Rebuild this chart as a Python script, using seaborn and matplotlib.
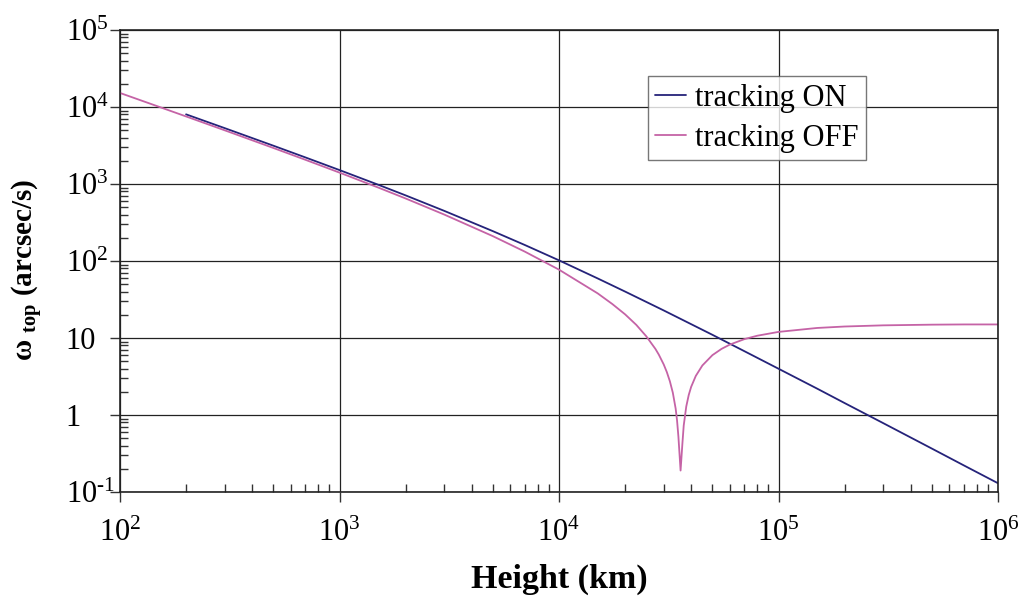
import pandas as pd
import matplotlib
matplotlib.use("Agg")
import matplotlib.pyplot as plt
import seaborn as sns
from matplotlib.ticker import LogLocator, NullFormatter

# values (height in km, omega in arcsec/s)
height_on = [200, 300, 500, 700, 1000, 1500, 2000, 3000, 5000, 7000, 10000,
             15000, 20000, 30000, 50000, 70000, 100000, 150000, 200000,
             300000, 500000, 700000, 1000000]
omega_on = [8030, 5315, 3142, 2212, 1517, 979, 712, 448, 244, 161, 102,
            59.4, 40.1, 22.8, 11.0, 6.73, 3.99, 2.20, 1.43,
            0.784, 0.366, 0.221, 0.130]

height_off = [100, 150, 200, 300, 500, 700, 1000, 1500, 2000, 3000,
              5000, 7000, 10000, 15000, 17500, 20000, 22500, 25000, 27500, 28500,
              30000, 31000, 32000, 33000, 34000, 34500, 35000, 35800, 36500, 37000,
              38000, 39000, 40000, 42000, 45000, 50000, 55000, 60000, 70000, 80000,
              100000, 150000, 200000, 300000, 500000, 700000, 1000000]
omega_off = [15216, 10097, 7539, 4980, 2935, 2060, 1406, 900, 649, 401,
             210, 132, 77.2, 38.0, 27.6, 20.3, 14.8, 10.5, 7.21, 6.07,
             4.53, 3.60, 2.74, 1.95, 1.21, 0.85, 0.52, 0.19, 0.43, 0.73,
             1.29, 1.82, 2.32, 3.22, 4.40, 5.99, 7.22, 8.21, 9.68, 10.7,
             12.0, 13.5, 14.1, 14.6, 14.9, 15.0, 15.0]

x_ticks = [1e2, 1e3, 1e4, 1e5, 1e6]
x_labels = ["$10^{2}$", "$10^{3}$", "$10^{4}$", "$10^{5}$", "$10^{6}$"]
y_ticks = [1e-1, 1, 10, 1e2, 1e3, 1e4, 1e5]
y_labels = [r"$10^{\text{-}1}$", "1", "10", "$10^{2}$", "$10^{3}$", "$10^{4}$", "$10^{5}$"]

df_on = pd.DataFrame({"Height": height_on, "omega": omega_on})
df_off = pd.DataFrame({"Height": height_off, "omega": omega_off})

sns.set_style("white")
plt.rcParams["font.family"] = ["Liberation Serif", "DejaVu Serif"]
plt.rcParams["mathtext.fontset"] = "custom"
plt.rcParams["mathtext.rm"] = "Liberation Serif"
plt.rcParams["mathtext.it"] = "Liberation Serif:italic"
plt.rcParams["mathtext.bf"] = "Liberation Serif:bold"
plt.rcParams["text.color"] = "black"
plt.rcParams["axes.labelcolor"] = "black"
plt.rcParams["xtick.color"] = "black"
plt.rcParams["ytick.color"] = "black"

fig = plt.figure(figsize=(10.24, 5.96), dpi=100)
ax = fig.add_axes([120 / 1024, 104 / 596, 878 / 1024, 462 / 596])

sns.lineplot(data=df_on, x="Height", y="omega", ax=ax, color="#25237a",
             lw=1.3, label="tracking ON")
sns.lineplot(data=df_off, x="Height", y="omega", ax=ax, color="#c563a6",
             lw=1.3, label="tracking OFF")

ax.set_xscale("log")
ax.set_yscale("log")
ax.set_xlim(1e2, 1e6)
ax.set_ylim(1e-1, 1e5)

ax.set_xticks(x_ticks)
ax.set_xticklabels(x_labels, fontsize=22)
ax.set_yticks(y_ticks)
ax.set_yticklabels(y_labels, fontsize=22)
ax.xaxis.set_minor_locator(LogLocator(base=10, subs=range(2, 10), numticks=20))
ax.yaxis.set_minor_locator(LogLocator(base=10, subs=range(2, 10), numticks=20))
ax.xaxis.set_minor_formatter(NullFormatter())
ax.yaxis.set_minor_formatter(NullFormatter())

ax.tick_params(which="both", bottom=True, left=True, top=False, right=False)
ax.tick_params(which="major", direction="out", length=7, width=1, color="#333333")
ax.tick_params(axis="x", which="major", pad=12)
ax.tick_params(axis="y", which="major", pad=32)
for lab in ax.get_yticklabels():
    lab.set_horizontalalignment("left")
ax.tick_params(which="minor", direction="in", length=6, width=1, color="#333333")

ax.grid(True, which="major", color="#222222", lw=0.9)
for s in ax.spines.values():
    s.set_color("#222222")
    s.set_linewidth(1.2)

ax.set_xlabel("Height (km)", fontsize=24.5, fontweight="bold", labelpad=12)
ax.set_ylabel(r"ω $_{\mathbf{top}}$ (arcsec/s)", fontsize=21, fontweight="bold")
ax.yaxis.set_label_coords(-0.085, 0.48)

leg = ax.legend(loc="upper left", bbox_to_anchor=(0.601, 0.9), fontsize=22,
                frameon=True, fancybox=False, handlelength=1.0, handletextpad=0.3,
                borderpad=0.25, labelspacing=0.35, borderaxespad=0)
leg.get_frame().set_edgecolor("#555555")
leg.get_frame().set_linewidth(1.0)

plt.savefig("out.png", dpi=100)
